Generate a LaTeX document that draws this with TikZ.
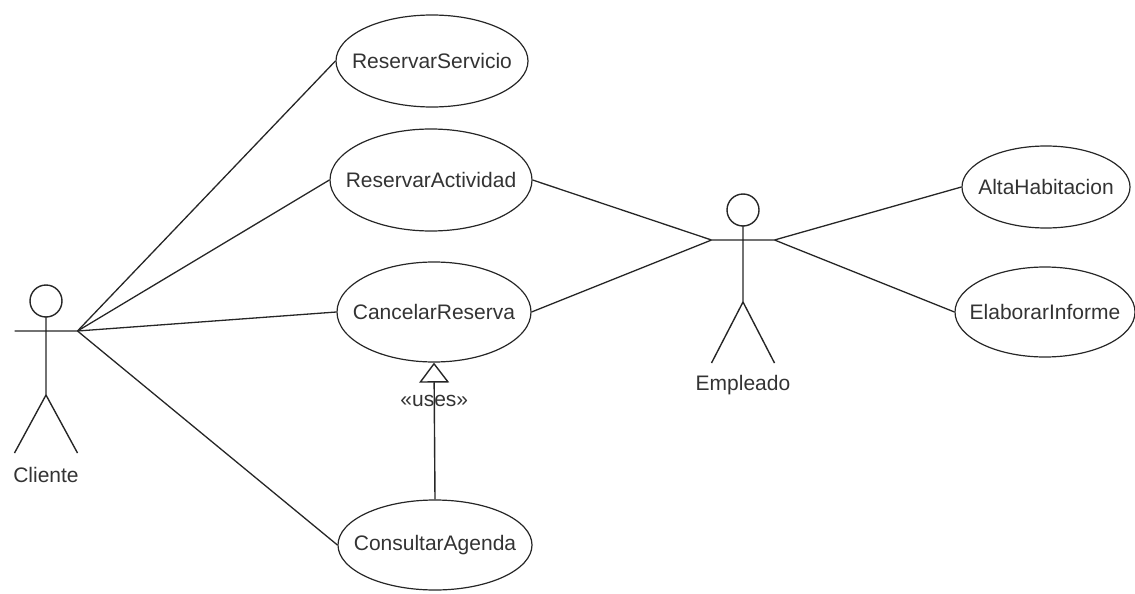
\documentclass[tikz,border=0pt]{standalone}
\usepackage{fontspec}
\setmainfont{Liberation Sans}
\usetikzlibrary{arrows.meta,shapes.geometric}

\begin{document}
\begin{tikzpicture}[
  x=1pt, y=-1pt,
  usecase/.style={draw=black!85, line width=1.2pt, ellipse, inner sep=0pt},
  every label/.style={text=black!80, font=\fontsize{21}{25}\selectfont},
  stick/.style={line width=1.4pt, draw=black!85},
  assoc/.style={line width=1.3pt, draw=black!85},
  uses/.style={-{Triangle[open, length=20pt, width=30pt]}, line width=1.4pt, draw=black!85},
  lbl/.style={text=black!80, font=\fontsize{21}{25}\selectfont}
]
\useasboundingbox (0,0) rectangle (1135,594);

% use cases
\node[usecase, minimum width=192pt, minimum height=92pt, label=center:ReservarServicio] (servicio) at (432,61) {};
\node[usecase, minimum width=202pt, minimum height=102pt, label=center:ReservarActividad] (actividad) at (431,180) {};
\node[usecase, minimum width=194pt, minimum height=100pt, label=center:CancelarReserva] (cancelar) at (434,312) {};
\node[usecase, minimum width=194pt, minimum height=90pt, label=center:ConsultarAgenda] (agenda) at (435,545) {};
\node[usecase, minimum width=168pt, minimum height=82pt, label=center:AltaHabitacion] (alta) at (1046,187) {};
\node[usecase, minimum width=180pt, minimum height=90pt, label=center:ElaborarInforme] (informe) at (1045,312) {};

% actor Cliente
\begin{scope}[shift={(46,301)}]
  \draw[stick] (0,0) circle (16pt);
  \draw[stick] (0,16) -- (0,94) (-31.5,30) -- (31.5,30) (-31.5,152) -- (0,94) -- (31.5,152);
  \coordinate (cliente) at (31.5,30);
\end{scope}
\node[lbl] (clientelbl) at (46,475) {Cliente};

% actor Empleado
\begin{scope}[shift={(743,210)}]
  \draw[stick] (0,0) circle (16pt);
  \draw[stick] (0,16) -- (0,92) (-31.5,30) -- (31.5,30) (-31.5,153) -- (0,92) -- (31.5,153);
  \coordinate (empL) at (-31.5,30);
  \coordinate (empR) at (31.5,30);
\end{scope}
\node[lbl] (empleadolbl) at (743,385) {Empleado};

\draw[assoc] (cliente) -- (servicio.west);
\draw[assoc] (cliente) -- (actividad.west);
\draw[assoc] (cliente) -- (cancelar.west);
\draw[assoc] (cliente) -- (agenda.west);
\draw[assoc] (actividad.east) -- (empL);
\draw[assoc] (cancelar.east) -- (empL);
\draw[assoc] (empR) -- (alta.west);
\draw[assoc] (empR) -- (informe.west);
\draw[uses] (agenda.north) -- node[lbl, pos=0.72] (useslbl) {«uses»} (cancelar.south);
\end{tikzpicture}
\end{document}
